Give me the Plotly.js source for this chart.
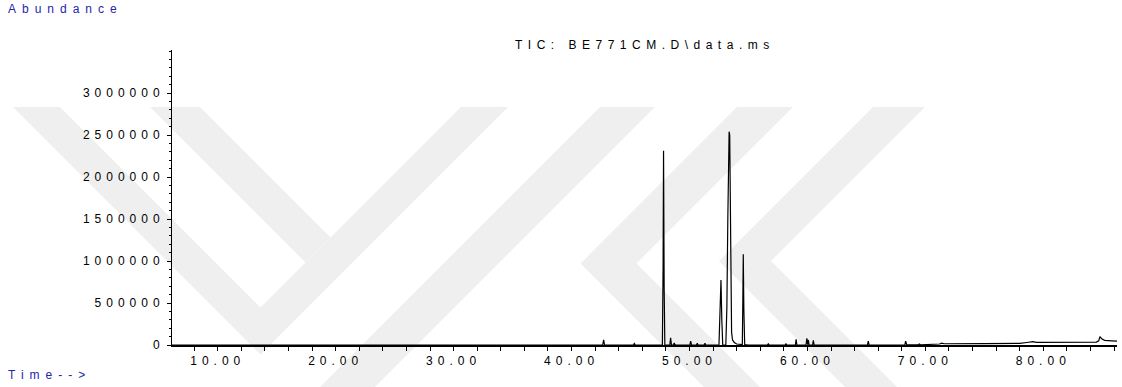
<!DOCTYPE html>
<html><head><meta charset="utf-8">
<script src="https://cdn.plot.ly/plotly-3.0.1.min.js"></script>
<style>
html,body{margin:0;padding:0;background:#fff;}
#chart{width:1122px;height:387px;}
.xtick text, .ytick text { letter-spacing: 5px; }
.gtitle { letter-spacing: 5.5px; }
.annotation-text { letter-spacing: 6px; }
</style></head><body><div id="chart"></div>
<script>
// Retention time (min) and abundance
const retentionTime = [
  6.12, 42.64, 42.72, 42.80, 45.24, 45.32, 45.40,
  47.70, 47.76, 47.80, 47.85, 47.91,
  48.33, 48.40, 48.47, 48.64, 48.70, 48.76, 48.85,
  50.03, 50.10, 50.17, 50.59, 50.66, 50.73, 51.24, 51.31, 51.38,
  52.50, 52.60, 52.67, 52.74, 52.82,
  53.08, 53.17, 53.25, 53.31, 53.36, 53.41, 53.46, 53.50, 53.53, 53.57, 53.65, 53.80, 54.00, 54.30,
  54.48, 54.52, 54.56, 54.61, 54.68, 55.00,
  56.61, 56.68, 56.75, 58.11, 58.18, 58.25,
  58.98, 59.04, 59.11, 59.88, 59.95, 60.02, 60.08, 60.14, 60.44, 60.50, 60.57,
  65.09, 65.16, 65.23, 68.26, 68.33, 68.42, 69.40, 69.49, 69.58,
  70.30, 71.20, 71.39, 71.60, 75.00, 78.00, 78.60, 79.13, 79.40,
  84.50, 84.70, 84.80, 84.95, 85.20, 85.80, 86.25
];
const abundance = [
  0, 0, 60000, 0, 0, 18000, 0,
  0, 900000, 2313000, 700000, 0,
  0, 85000, 0, 0, 25000, 5000, 0,
  0, 45000, 0, 0, 22000, 0, 0, 22000, 0,
  0, 380000, 774000, 300000, 0,
  0, 450000, 1500000, 2420000, 2540000, 2500000, 1600000, 450000, 583000, 150000, 60000, 30000, 12000, 5000,
  5000, 500000, 1080000, 420000, 5000, 0,
  0, 15000, 0, 0, 15000, 0,
  0, 68000, 0, 0, 80000, 5000, 60000, 0, 0, 55000, 0,
  0, 45000, 0, 0, 45000, 5000, 3000, 12000, 3000,
  5000, 12000, 22000, 15000, 17000, 20000, 30000, 40000, 32000,
  35000, 50000, 100000, 75000, 55000, 50000, 45000
];
const yTickValues = [0, 500000, 1000000, 1500000, 2000000, 2500000, 3000000];
const chartTitle = "TIC: BE771CM.D\\data.ms";
const yLabel = "Abundance";
const xLabel = "Time-->";

// plot frame in pixels
const L = 172, R = 1117, T = 50, B = 345;
const px = x => (x - L) / (R - L);
const py = y => (B - y) / (B - T);

// faint watermark polygons (pixel coordinates)
const marks = [
  [[13,107],[60,107],[260.5,307.5],[461,107],[508,107],[260.5,354.5]],
  [[150,107],[200,107],[330.5,237.5],[305.5,262.5]],
  [[600,107],[655,107],[375,387],[320,387]],
  [[737,107],[793,107],[636.5,263.5],[760,387],[704,387],[580.5,263.5]],
  [[873,107],[925,107],[771,261],[897,387],[845,387],[719,261]]
];
const shapes = marks.map(poly => ({
  type: 'path', xref: 'paper', yref: 'paper', layer: 'below',
  path: 'M' + poly.map(p => px(p[0]).toFixed(5) + ',' + py(p[1]).toFixed(5)).join(' L') + ' Z',
  fillcolor: '#efefef', line: {width: 0}
}));

const fam = 'Arial, "Liberation Sans", sans-serif';

const trace = {
  x: retentionTime, y: abundance, type: 'scatter', mode: 'lines',
  line: {color: '#000', width: 1.2}, hoverinfo: 'skip'
};

const layout = {
  width: 1122, height: 387,
  margin: {l: L, r: 1122 - R, t: T, b: 387 - B, pad: 0},
  paper_bgcolor: '#fff', plot_bgcolor: 'rgba(0,0,0,0)',
  showlegend: false,
  font: {family: fam, size: 12, color: '#000'},
  title: {text: chartTitle, xref: 'paper', x: px(515), xanchor: 'left',
          yref: 'container', y: 1 - 45/387, yanchor: 'middle',
          font: {family: fam, size: 12, color: '#000'}},
  xaxis: {
    range: [6.12, 86.25], showgrid: false, zeroline: false,
    showline: true, linecolor: '#000', linewidth: 2,
    tickmode: 'linear', tick0: 0, dtick: 10, tickformat: '.2f',
    ticks: 'outside', ticklen: 4, tickwidth: 1, tickcolor: '#000',
    minor: {tick0: 0, dtick: 2, ticks: 'outside', ticklen: 4, tickwidth: 1, tickcolor: '#000', showgrid: false},
    tickfont: {family: fam, size: 12, color: '#000'},
    fixedrange: true
  },
  yaxis: {
    range: [0, 3512000], showgrid: false, zeroline: false,
    showline: true, linecolor: '#000', linewidth: 1,
    tickmode: 'array', tickvals: yTickValues, ticktext: yTickValues.map(String),
    ticks: 'outside', ticklen: 4, tickwidth: 1, tickcolor: '#000',
    minor: {tick0: 0, dtick: 100000, ticks: 'outside', ticklen: 2, tickwidth: 1, tickcolor: '#000', showgrid: false},
    tickfont: {family: fam, size: 12, color: '#000'},
    fixedrange: true
  },
  shapes: shapes,
  annotations: [
    {text: yLabel, xref: 'paper', yref: 'paper', x: px(6), y: py(9), xanchor: 'left', yanchor: 'middle',
     showarrow: false, font: {family: fam, size: 12, color: '#2424a8'}},
    {text: xLabel, xref: 'paper', yref: 'paper', x: px(6), y: py(375), xanchor: 'left', yanchor: 'middle',
     showarrow: false, font: {family: fam, size: 12, color: '#2424a8'}}
  ]
};

Plotly.newPlot('chart', [trace], layout, {staticPlot: true, displayModeBar: false});
</script></body></html>
